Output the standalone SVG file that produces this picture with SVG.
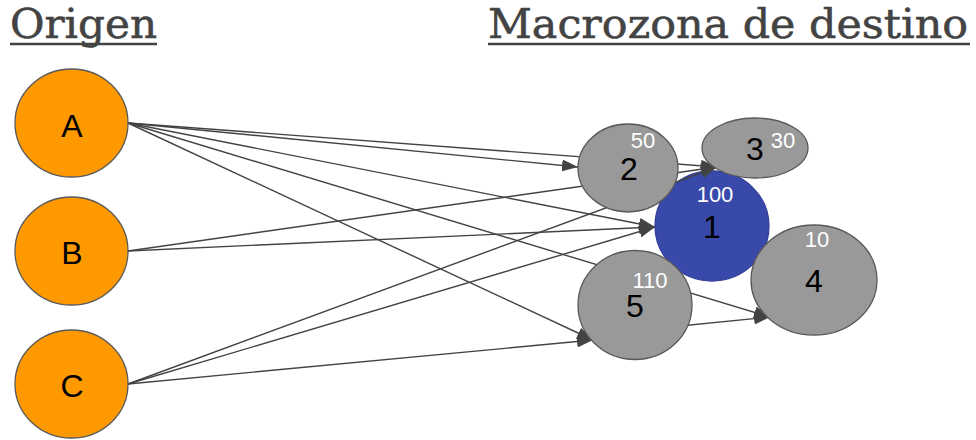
<svg xmlns="http://www.w3.org/2000/svg" width="976" height="440" viewBox="0 0 976 440">
<style>
.title{font-family:"DejaVu Serif Condensed","DejaVu Serif","Liberation Serif",serif;font-size:41px;fill:#434343;stroke:#434343;stroke-width:0.5}
.uline{stroke:#434343;stroke-width:2.5}
.edge{stroke:#434343;stroke-width:1.4;fill:none;marker-end:url(#arr)}
.orig{fill:#FF9900;stroke:#595959;stroke-width:1.3}
.dest{fill:#999999;stroke:#595959;stroke-width:1.3}
.main{fill:#3949A9;stroke:#34409a;stroke-width:1.3}
.lbl{font-family:"Liberation Sans",Arial,sans-serif;font-size:32px;fill:#000;text-anchor:middle}
.val{font-family:"Liberation Sans",Arial,sans-serif;font-size:22px;fill:#fff;text-anchor:middle}
</style>
<defs>
<marker id="arr" markerUnits="userSpaceOnUse" markerWidth="16" markerHeight="12" refX="16" refY="6" orient="auto">
<path d="M0,0 L16,6 L0,12 z" fill="#434343"/>
</marker>
</defs>
<rect width="976" height="440" fill="#fff"/>
<g id="titles">
<text class="title" x="10" y="38" textLength="147" lengthAdjust="spacingAndGlyphs">Origen</text>
<line class="uline" x1="10" y1="44" x2="157" y2="44"/>
<text class="title" x="488" y="38" textLength="480" lengthAdjust="spacingAndGlyphs">Macrozona de destino</text>
<line class="uline" x1="488" y1="44" x2="970" y2="44"/>
</g>
<g id="node-1">
<ellipse class="main" cx="712" cy="226" rx="57" ry="55"/>
<text class="val" x="715" y="202">100</text>
<text class="lbl" x="712" y="238">1</text>
</g>
<g id="connectors">
<line class="edge" x1="128" y1="123" x2="578" y2="167"/>
<line class="edge" x1="128" y1="123" x2="717" y2="167"/>
<line class="edge" x1="128" y1="123" x2="655" y2="227"/>
<line class="edge" x1="128" y1="123" x2="770" y2="317"/>
<line class="edge" x1="128" y1="123" x2="593" y2="340"/>
<line class="edge" x1="128" y1="251" x2="717" y2="167"/>
<line class="edge" x1="128" y1="251" x2="655" y2="227"/>
<line class="edge" x1="128" y1="384" x2="717" y2="167"/>
<line class="edge" x1="128" y1="384" x2="655" y2="227"/>
<line class="edge" x1="128" y1="384" x2="593" y2="340"/>
<line class="edge" x1="660" y1="328" x2="770" y2="317"/>
</g>
<g id="node-A">
<ellipse class="orig" cx="71.5" cy="123" rx="56.5" ry="54"/>
<text class="lbl" x="72" y="137">A</text>
</g>
<g id="node-B">
<ellipse class="orig" cx="71.5" cy="251" rx="56.5" ry="54"/>
<text class="lbl" x="72" y="264">B</text>
</g>
<g id="node-C">
<ellipse class="orig" cx="71.5" cy="384" rx="56.5" ry="54"/>
<text class="lbl" x="72" y="397">C</text>
</g>
<g id="node-2">
<ellipse class="dest" cx="628" cy="168" rx="50" ry="44"/>
<text class="val" x="643" y="148">50</text>
<text class="lbl" x="629" y="180">2</text>
</g>
<g id="node-3">
<ellipse class="dest" cx="755" cy="148" rx="53" ry="30"/>
<text class="lbl" x="755" y="160">3</text>
<text class="val" x="783" y="148">30</text>
</g>
<g id="node-5">
<ellipse class="dest" cx="635" cy="305" rx="57" ry="54.5"/>
<text class="val" x="650" y="288">110</text>
<text class="lbl" x="635" y="317">5</text>
</g>
<g id="node-4">
<ellipse class="dest" cx="814" cy="280" rx="63" ry="55"/>
<text class="val" x="817" y="247">10</text>
<text class="lbl" x="814" y="292">4</text>
</g>
</svg>
